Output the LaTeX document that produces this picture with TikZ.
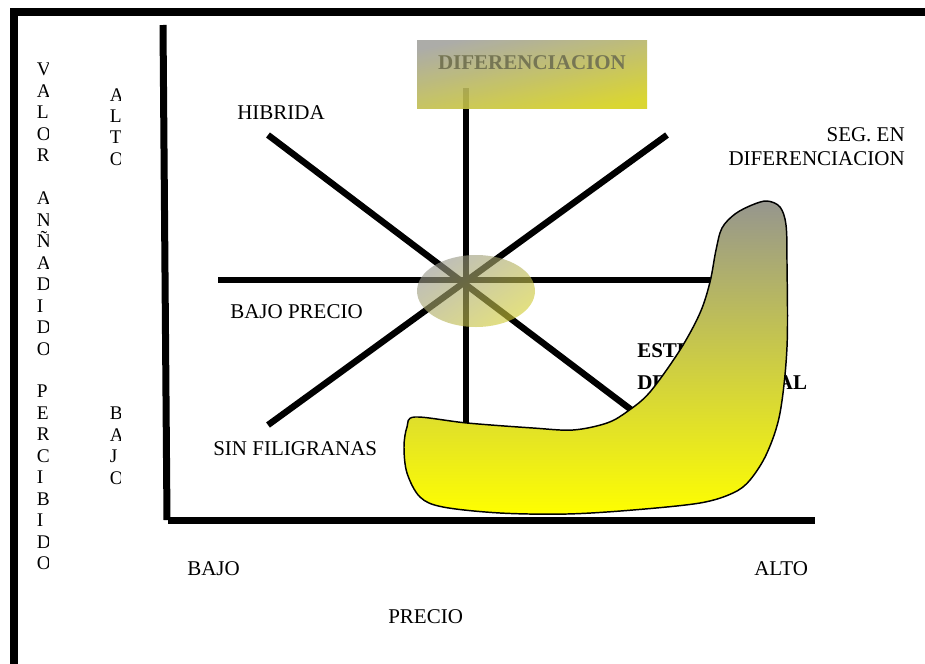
\documentclass[tikz,border=0pt]{standalone}
\usepackage{fontspec}
\setmainfont{Liberation Serif}
\usetikzlibrary{shapes.geometric}
\definecolor{boxgray}{RGB}{163,163,158}
\definecolor{boxmid}{RGB}{180,179,138}
\definecolor{boxyellow}{RGB}{214,209,28}
\definecolor{difftext}{RGB}{118,118,84}
\definecolor{blobgray}{RGB}{150,150,142}
\definecolor{blobyellow}{RGB}{255,255,0}
\definecolor{hubgray}{RGB}{150,150,140}
\definecolor{hubyellow}{RGB}{210,205,50}

\begin{document}
\begin{tikzpicture}[x=0.75pt, y=-0.75pt,
  framebar/.style={line width=6pt, black},
  axisline/.style={line width=5.25pt, black},
  bar/.style={line width=4.8pt, black},
  lbl/.style={font=\fontsize{15.75}{18}\selectfont, inner sep=0pt},
  vlbl/.style={font=\fontsize{14.5}{16.1}\selectfont, align=left, inner sep=0pt, anchor=north west},
  hub/.style={ellipse, minimum width=88.5pt, minimum height=54pt, inner sep=0pt,
    top color=hubgray, bottom color=hubyellow, shading angle=35, fill opacity=0.62},
  diffbox/.style={rectangle, minimum width=172.5pt, minimum height=51pt, inner sep=0pt,
    top color=boxgray, middle color=boxmid, bottom color=boxyellow, shading angle=12,
    fill opacity=0.9},
  blob/.style={draw=black, line width=1.1pt, top color=blobgray, bottom color=blobyellow}
]
\useasboundingbox (0,0) rectangle (925,664);

\draw[framebar] (14,664) |- (925,12);

\coordinate (ytop) at (163,25);
\coordinate (ybot) at (167,520);
\coordinate (xlft) at (168,520);
\coordinate (xrgt) at (815,520);
\draw[axisline] (ytop) -- (ybot);
\draw[axisline] (xlft) -- (xrgt);

\coordinate (nor) at (466,88);
\coordinate (sou) at (466,425);
\coordinate (wes) at (218,280);
\coordinate (eas) at (712,280);
\coordinate (hib) at (268,135);
\coordinate (fra) at (650,424);
\coordinate (sin) at (268,425);
\coordinate (seg) at (667,135);
\draw[bar] (nor) -- (sou);
\draw[bar] (wes) -- (eas);
\draw[bar] (hib) -- (fra);
\draw[bar] (sin) -- (seg);

\node[lbl, anchor=base west] (hibrida) at (237,119) {HIBRIDA};
\node[lbl, align=right, anchor=north east] (segdif) at (905,127) {SEG. EN\\DIFERENCIACION};
\node[lbl, anchor=base west] (bajoprecio) at (230,318) {BAJO PRECIO};
\node[lbl, anchor=base west] (sinfil) at (213,455) {SIN FILIGRANAS};
\node[lbl, anchor=base west] (bajo) at (187,575) {BAJO};
\node[lbl, anchor=base west] (alto) at (754,575) {ALTO};
\node[lbl, anchor=base west] (precio) at (388,623) {PRECIO};
\node[lbl, font=\fontsize{15.75}{24}\selectfont\bfseries, align=left, anchor=north west]
  (fracaso) at (637,343) {ESTRATEGIAS\\DESTINADAS AL\\FRACASO};

\begin{scope}
  \clip (20,40) rectangle (48,620);
  \node[vlbl] (valor) at (36.5,63)
    {V\\A\\L\\O\\R\\\mbox{}\\A\\N\\Ñ\\A\\D\\I\\D\\O\\\mbox{}\\P\\E\\R\\C\\I\\B\\I\\D\\O};
\end{scope}
\begin{scope}
  \clip (100,40) rectangle (120,620);
  \node[vlbl] (altov) at (109.5,88) {A\\L\\T\\O};
  \node[vlbl] (bajov) at (109.5,407) {B\\A\\J\\O};
\end{scope}

\draw[blob] plot[smooth cycle, tension=0.55] coordinates {
  (767,201) (780,207) (786,225) (787,263) (787,347) (780,413) (767,453)
  (750,480) (733,493) (700,503) (633,510) (567,514) (500,513) (443,507)
  (420,497) (407,473) (404,447) (407,427) (415,417) (467,423) (533,428)
  (573,430) (607,423) (628,411) (650,392) (680,350) (700,313) (710,282)
  (716,250) (722,228) (735,214) (752,205)};

\node[hub] (hub) at (476,291) {};

\node[diffbox] (diff) at (532,74) {};
\node[lbl, font=\fontsize{15.75}{18}\selectfont\bfseries, text=difftext, anchor=base]
  (difftxt) at (532,69) {DIFERENCIACION};
\end{tikzpicture}
\end{document}
